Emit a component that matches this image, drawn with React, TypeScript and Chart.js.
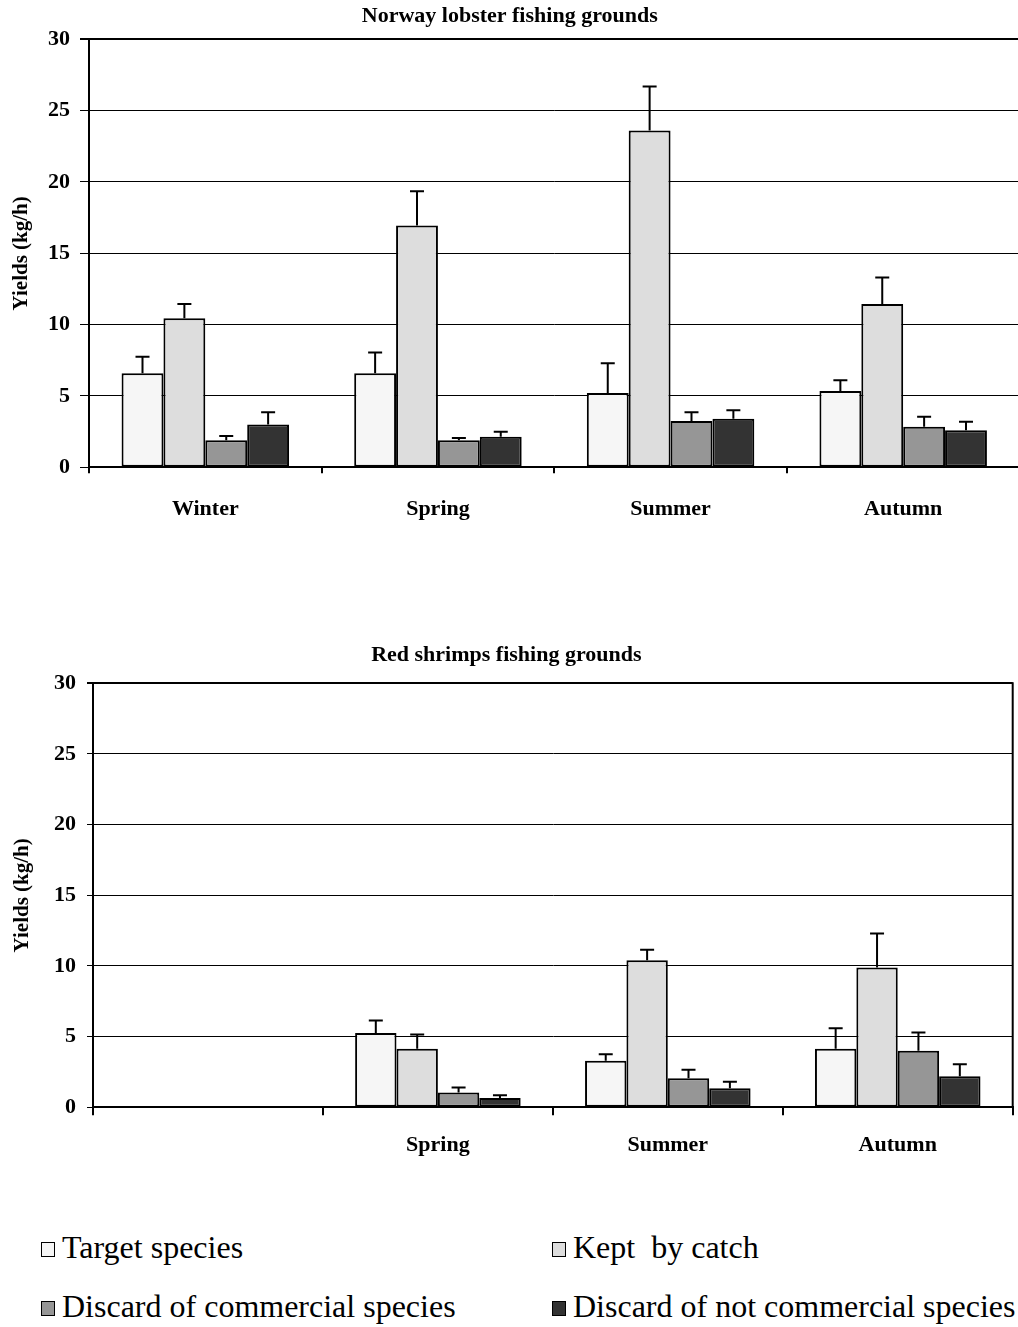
import React, { useEffect, useRef } from 'react';
import { Chart, registerables } from 'chart.js';

Chart.register(...registerables);

// ---------- data ----------
const SEASONS = ['Winter', 'Spring', 'Summer', 'Autumn'];
const SHRIMP_SEASONS = ['', 'Spring', 'Summer', 'Autumn'];

const SERIES_NAMES = [
  'Target species',
  'Kept  by catch',
  'Discard of commercial species',
  'Discard of not commercial species',
];
const SERIES_COLORS = ['#f6f6f6', '#dddddd', '#969696', '#333333'];

const Y_MAX = 30;
const Y_STEP = 5;

// Norway lobster fishing grounds
const NL_TARGET = [6.6, 6.6, 5.2, 5.35];
const NL_KEPT = [10.45, 16.95, 23.6, 11.45];
const NL_DISC_COM = [1.9, 1.9, 3.25, 2.85];
const NL_DISC_NOT = [3.0, 2.15, 3.4, 2.6];
const NL_TARGET_ERR = [1.15, 1.45, 2.1, 0.75];
const NL_KEPT_ERR = [1.0, 2.4, 3.1, 1.85];
const NL_DISC_COM_ERR = [0.3, 0.15, 0.6, 0.7];
const NL_DISC_NOT_ERR = [0.85, 0.35, 0.6, 0.6];

// Red shrimps fishing grounds (no winter data)
const RS_TARGET = [null, 5.25, 3.3, 4.15];
const RS_KEPT = [null, 4.15, 10.4, 9.9];
const RS_DISC_COM = [null, 1.05, 2.05, 4.0];
const RS_DISC_NOT = [null, 0.65, 1.35, 2.2];
const RS_TARGET_ERR = [null, 0.9, 0.45, 1.45];
const RS_KEPT_ERR = [null, 1.0, 0.75, 2.4];
const RS_DISC_COM_ERR = [null, 0.35, 0.6, 1.3];
const RS_DISC_NOT_ERR = [null, 0.2, 0.45, 0.85];

const FONT = "'Liberation Serif', 'Times New Roman', Times, serif";

// ---------- plugins ----------
const errorBarPlugin = {
  id: 'errorBars',
  afterDatasetsDraw(chart: any) {
    const ctx = chart.ctx;
    const y = chart.scales.y;
    chart.data.datasets.forEach((ds: any, i: number) => {
      const meta = chart.getDatasetMeta(i);
      const errs = ds.errors || [];
      meta.data.forEach((bar: any, j: number) => {
        const v = ds.data[j];
        const e = errs[j];
        if (v == null || e == null) return;
        const yTop = y.getPixelForValue(v + e);
        ctx.save();
        ctx.strokeStyle = '#000';
        ctx.lineWidth = 2;
        ctx.beginPath();
        ctx.moveTo(bar.x, bar.y);
        ctx.lineTo(bar.x, yTop);
        ctx.moveTo(bar.x - 7, yTop);
        ctx.lineTo(bar.x + 7, yTop);
        ctx.stroke();
        ctx.restore();
      });
    });
  },
};

const framePlugin = {
  id: 'rightFrame',
  afterDraw(chart: any) {
    const { ctx, chartArea } = chart;
    ctx.save();
    ctx.strokeStyle = '#000';
    ctx.lineWidth = 2;
    ctx.beginPath();
    ctx.moveTo(chartArea.right, chartArea.top - 1);
    ctx.lineTo(chartArea.right, chartArea.bottom);
    ctx.stroke();
    ctx.restore();
  },
};

type Layout = {
  width: number;
  height: number;
  padRight: number;
  titlePadTop: number;
  titlePadBottom: number;
  yWidth: number;
  yTickLen: number;
  yTickPad: number;
  yTitlePad: number;
  xHeight: number;
  xTickLen: number;
  xTickPad: number;
};

function BarChart(props: {
  title: string;
  labels: string[];
  values: (number | null)[][];
  errors: (number | null)[][];
  layout: Layout;
}) {
  const ref = useRef<HTMLCanvasElement | null>(null);
  const { title, labels, values, errors, layout } = props;

  useEffect(() => {
    if (!ref.current) return;
    const chart = new Chart(ref.current, {
      type: 'bar',
      data: {
        labels,
        datasets: values.map((vals, i) => ({
          label: SERIES_NAMES[i],
          data: vals,
          errors: errors[i],
          backgroundColor: SERIES_COLORS[i],
          borderColor: '#000',
          borderWidth: 2,
          borderSkipped: false,
          categoryPercentage: 0.72,
          barPercentage: 1.0,
        })) as any,
      },
      options: {
        responsive: false,
        animation: false,
        devicePixelRatio: 1,
        layout: { padding: { left: 0, right: layout.padRight, top: 0, bottom: 0 } },
        plugins: {
          legend: { display: false },
          tooltip: { enabled: false },
          title: {
            display: true,
            text: title,
            color: '#000',
            font: { family: FONT, size: 22, weight: 'bold' },
            padding: { top: layout.titlePadTop, bottom: layout.titlePadBottom },
          },
        },
        scales: {
          x: {
            offset: true,
            afterFit: (s: any) => {
              s.height = layout.xHeight;
            },
            grid: {
              offset: true,
              drawOnChartArea: false,
              drawTicks: true,
              tickLength: layout.xTickLen,
              color: '#000',
              lineWidth: 2,
            },
            border: { display: true, color: '#000', width: 2 },
            ticks: {
              color: '#000',
              padding: layout.xTickPad,
              font: { family: FONT, size: 22, weight: 'bold' },
              maxRotation: 0,
              autoSkip: false,
            },
          },
          y: {
            min: 0,
            max: Y_MAX,
            afterFit: (s: any) => {
              s.width = layout.yWidth;
            },
            grid: {
              color: '#000',
              lineWidth: (c: any) => (c.tick && c.tick.value === Y_MAX ? 2 : 1),
              drawTicks: true,
              tickLength: layout.yTickLen,
            },
            border: { display: true, color: '#000', width: 2 },
            ticks: {
              stepSize: Y_STEP,
              color: '#000',
              padding: layout.yTickPad,
              font: { family: FONT, size: 22, weight: 'bold' },
            },
            title: {
              display: true,
              text: 'Yields (kg/h)',
              color: '#000',
              font: { family: FONT, size: 21, weight: 'bold' },
              padding: { top: layout.yTitlePad, bottom: 0 },
            },
          },
        },
      } as any,
      plugins: [errorBarPlugin, framePlugin],
    });
    return () => chart.destroy();
  }, []);

  return (
    <canvas
      ref={ref}
      width={layout.width}
      height={layout.height}
      style={{ display: 'block' }}
    />
  );
}

const TOP_LAYOUT: Layout = {
  width: 1022,
  height: 540,
  padRight: 2.5,
  titlePadTop: 3.4,
  titlePadBottom: 9.5,
  yWidth: 89,
  yTickLen: 9,
  yTickPad: 10,
  yTitlePad: 9.4,
  xHeight: 540 - 467.3,
  xTickLen: 6,
  xTickPad: 23,
};

const BOTTOM_LAYOUT: Layout = {
  width: 1018,
  height: 560,
  padRight: 5.3,
  titlePadTop: 17,
  titlePadBottom: 14.9,
  yWidth: 93,
  yTickLen: 6,
  yTickPad: 11,
  yTitlePad: 10.4,
  xHeight: 560 - 482.3,
  xTickLen: 8,
  xTickPad: 17,
};

function LegendItem(props: { name: string; color: string; x: number; top: number }) {
  const { name, color, x, top } = props;
  return (
    <div style={{ position: 'absolute', left: x, top, height: 40 }}>
      <div
        style={{
          position: 'absolute',
          left: 0,
          top: 11,
          width: 12,
          height: 13,
          background: color,
          border: '1.5px solid #000',
        }}
      />
      <div
        style={{
          position: 'absolute',
          left: 21,
          top: 0,
          fontFamily: FONT,
          fontSize: 32,
          lineHeight: '32px',
          whiteSpace: 'pre',
          color: '#000',
        }}
      >
        {name}
      </div>
    </div>
  );
}

export default function App() {
  const nlValues = [NL_TARGET, NL_KEPT, NL_DISC_COM, NL_DISC_NOT];
  const nlErrors = [NL_TARGET_ERR, NL_KEPT_ERR, NL_DISC_COM_ERR, NL_DISC_NOT_ERR];
  const rsValues = [RS_TARGET, RS_KEPT, RS_DISC_COM, RS_DISC_NOT];
  const rsErrors = [RS_TARGET_ERR, RS_KEPT_ERR, RS_DISC_COM_ERR, RS_DISC_NOT_ERR];

  const legendPos = [
    { x: 41, top: 1231 },
    { x: 552, top: 1231 },
    { x: 41, top: 1290 },
    { x: 552, top: 1290 },
  ];

  return (
    <div
      style={{
        position: 'absolute',
        left: 0,
        top: 0,
        width: 1018,
        height: 1327,
        overflow: 'hidden',
        background: '#fff',
      }}
    >
      <div style={{ position: 'absolute', left: 0, top: 0 }}>
        <BarChart
          title="Norway lobster fishing grounds"
          labels={SEASONS}
          values={nlValues}
          errors={nlErrors}
          layout={TOP_LAYOUT}
        />
      </div>
      <div style={{ position: 'absolute', left: 0, top: 625 }}>
        <BarChart
          title="Red shrimps fishing grounds"
          labels={SHRIMP_SEASONS}
          values={rsValues}
          errors={rsErrors}
          layout={BOTTOM_LAYOUT}
        />
      </div>
      {SERIES_NAMES.map((name, i) => (
        <LegendItem
          key={name}
          name={name}
          color={SERIES_COLORS[i]}
          x={legendPos[i].x}
          top={legendPos[i].top}
        />
      ))}
    </div>
  );
}
